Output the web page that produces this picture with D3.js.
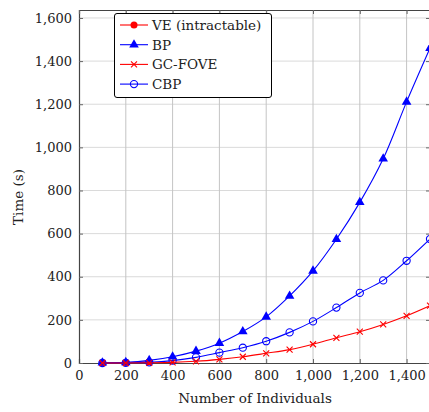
<!DOCTYPE html>
<html>
<head>
<meta charset="utf-8">
<script src="https://cdn.jsdelivr.net/npm/d3@7"></script>
<style>
  body { margin: 0; background: #fff; }
</style>
</head>
<body>
<div id="chart"></div>
<script>
// data
var individuals = [100, 200, 300, 400, 500, 600, 700, 800, 900, 1000, 1100, 1200, 1300, 1400, 1500];
var veX = [100, 200, 300];
var veTime = [1, 2, 6];
var bpTime = [1, 3, 12, 29, 55, 92, 146, 214, 311, 427, 574, 745, 947, 1211, 1460];
var gcfoveTime = [0, 0, 1, 3, 8, 17, 29, 45, 62, 87, 117, 145, 179, 219, 266];
var cbpTime = [0, 1, 3, 11, 26, 48, 71, 101, 142, 193, 257, 325, 383, 474, 575];
var xTicks = [0, 200, 400, 600, 800, 1000, 1200, 1400];
var yTicks = [0, 200, 400, 600, 800, 1000, 1200, 1400, 1600];
var legendNames = ["VE (intractable)", "BP", "GC-FOVE", "CBP"];

var FONT = "'DejaVu Serif', 'Liberation Serif', serif";

function init() {
    var w = 429, h = 412;
    var left = 79, top = 10, right = 430, bottom = 363;

    var svg = d3.select("#chart").append("svg")
        .attr("width", w)
        .attr("height", h)
        .attr("font-family", FONT);

    var x = d3.scaleLinear().domain([0, 1500]).range([left, right]);
    var y = d3.scaleLinear().domain([0, 1637]).range([bottom, top]);

    // grid
    svg.append("g").selectAll("line")
        .data(yTicks.slice(1))
        .enter().append("line")
        .attr("x1", left).attr("x2", right)
        .attr("y1", function (d) { return y(d); })
        .attr("y2", function (d) { return y(d); })
        .attr("stroke", "#dadada").attr("stroke-width", 1);
    svg.append("g").selectAll("line")
        .data(xTicks.slice(1))
        .enter().append("line")
        .attr("y1", top).attr("y2", bottom)
        .attr("x1", function (d) { return x(d); })
        .attr("x2", function (d) { return x(d); })
        .attr("stroke", "#c4c4c4").attr("stroke-width", 1);

    // axes (ticks inside, mirrored)
    var ax = svg.append("g").attr("transform", "translate(0," + bottom + ")")
        .call(d3.axisBottom(x).tickValues(xTicks).tickSize(-4).tickPadding(8)
            .tickFormat(d3.format(",")));
    var ay = svg.append("g").attr("transform", "translate(" + left + ",0)")
        .call(d3.axisLeft(y).tickValues(yTicks).tickSize(-4).tickPadding(7)
            .tickFormat(d3.format(",")));
    var axTop = svg.append("g").attr("transform", "translate(0," + top + ")")
        .call(d3.axisTop(x).tickValues(xTicks).tickSize(-4).tickFormat(""));
    var ayRight = svg.append("g").attr("transform", "translate(" + right + ",0)")
        .call(d3.axisRight(y).tickValues(yTicks).tickSize(-4).tickFormat(""));

    [ax, ay, axTop, ayRight].forEach(function (g) {
        g.attr("font-family", FONT).attr("font-size", 13);
        g.select(".domain").attr("stroke", "#444").attr("stroke-width", 1.2);
        g.selectAll(".tick line").attr("stroke", "#666");
        g.selectAll("text").attr("fill", "#222");
    });

    svg.append("text")
        .attr("x", 255)
        .attr("y", 403)
        .attr("text-anchor", "middle")
        .attr("font-size", 13.5)
        .attr("fill", "#222")
        .text("Number of Individuals");

    svg.append("text")
        .attr("transform", "translate(23,197) rotate(-90)")
        .attr("text-anchor", "middle")
        .attr("font-size", 13.5)
        .attr("fill", "#222")
        .text("Time (s)");

    var line = d3.line().curve(d3.curveCatmullRom.alpha(0.5))
        .x(function (d) { return x(d[0]); })
        .y(function (d) { return y(d[1]); });

    var plot = svg.append("g");

    function series(xs, ys, color, marker) {
        var pts = xs.map(function (v, i) { return [v, ys[i]]; });
        plot.append("path")
            .attr("d", line(pts))
            .attr("fill", "none")
            .attr("stroke", color)
            .attr("stroke-width", 1.1);
        pts.forEach(function (p) {
            drawMarker(plot, x(p[0]), y(p[1]), color, marker);
        });
    }

    function drawMarker(g, cx, cy, color, marker) {
        if (marker === "dot") {
            g.append("circle").attr("cx", cx).attr("cy", cy).attr("r", 3.5)
                .attr("fill", color);
        } else if (marker === "tri") {
            g.append("path")
                .attr("d", d3.symbol().type(d3.symbolTriangle).size(40)())
                .attr("transform", "translate(" + cx + "," + cy + ")")
                .attr("fill", color);
        } else if (marker === "x") {
            g.append("path")
                .attr("d", "M-3,-3L3,3M-3,3L3,-3")
                .attr("transform", "translate(" + cx + "," + cy + ")")
                .attr("stroke", color).attr("stroke-width", 1.1);
        } else if (marker === "circ") {
            g.append("circle").attr("cx", cx).attr("cy", cy).attr("r", 3.6)
                .attr("fill", "none").attr("stroke", color).attr("stroke-width", 1.1);
        }
    }

    var colors = ["red", "blue", "red", "blue"];
    var markers = ["dot", "tri", "x", "circ"];

    series(veX, veTime, colors[0], markers[0]);
    series(individuals, bpTime, colors[1], markers[1]);
    series(individuals, cbpTime, colors[3], markers[3]);
    series(individuals, gcfoveTime, colors[2], markers[2]);

    // legend
    var lg = svg.append("g");
    lg.append("rect")
        .attr("x", 114.5).attr("y", 13.5)
        .attr("width", 157).attr("height", 84)
        .attr("rx", 2.5)
        .attr("fill", "#fff").attr("stroke", "#000").attr("stroke-width", 1);
    legendNames.forEach(function (name, i) {
        var ly = 25 + i * 19.7;
        lg.append("line")
            .attr("x1", 120).attr("x2", 148)
            .attr("y1", ly).attr("y2", ly)
            .attr("stroke", colors[i]).attr("stroke-width", 1.1);
        drawMarker(lg, 134, ly, colors[i], markers[i]);
        lg.append("text")
            .attr("x", 152).attr("y", ly + 5)
            .attr("font-size", 13.5)
            .attr("fill", "#222")
            .text(name);
    });
}

window.onload = init;
</script>
</body>
</html>
